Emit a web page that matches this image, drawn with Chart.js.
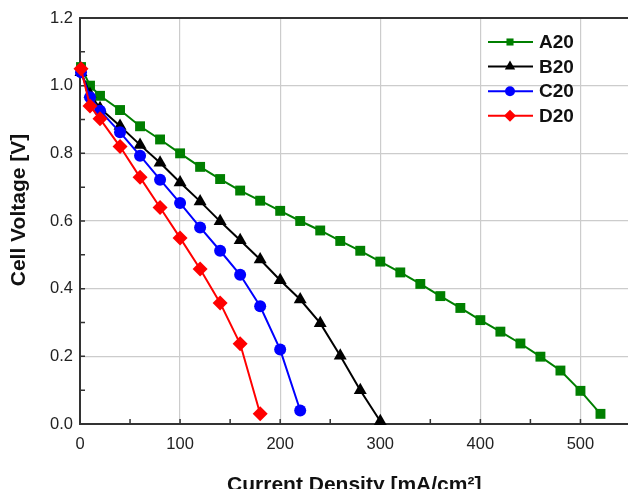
<!DOCTYPE html>
<html><head><meta charset="utf-8">
<script src="https://cdn.jsdelivr.net/npm/chart.js@4.4.1/dist/chart.umd.min.js"></script>
<style>html,body{margin:0;padding:0;overflow:hidden;background:#fff}#wrap{width:636px;height:500px;position:relative}</style>
</head><body><div id="wrap"><canvas id="c"></canvas></div>
<script>
// ---- data ----
const currentDensity = [1,10,20,40,60,80,100,120,140,160,180,200,220,240,260,280,300,320,340,360,380,400,420,440,460,480,500,520];
const seriesNames = ['A20','B20','C20','D20'];
const voltageA20 = [1.055,1.00,0.97,0.928,0.88,0.841,0.80,0.76,0.724,0.69,0.66,0.63,0.60,0.572,0.541,0.512,0.48,0.448,0.414,0.378,0.343,0.307,0.273,0.238,0.199,0.158,0.098,0.03];
const voltageB20 = [1.04,0.975,0.933,0.881,0.825,0.772,0.714,0.658,0.599,0.543,0.486,0.425,0.368,0.298,0.202,0.10,0.008];
const voltageC20 = [1.04,0.966,0.926,0.862,0.793,0.722,0.653,0.581,0.512,0.441,0.348,0.22,0.04];
const voltageD20 = [1.05,0.94,0.902,0.82,0.729,0.64,0.55,0.458,0.358,0.237,0.03];
const xTickValues = [0,100,200,300,400,500];
const yTickValues = [0.0,0.2,0.4,0.6,0.8,1.0,1.2];
const xTitle = 'Current Density [mA/cm²]';
const yTitle = 'Cell Voltage [V]';

const colors = ['#007f00','#000000','#0000ff','#ff0000'];
const shapes = ['rect','triangle','circle','rectRot'];
const radii = [7,7.5,6,7.5];
const allV = [voltageA20,voltageB20,voltageC20,voltageD20];
const FONT = '"Liberation Sans", Arial, sans-serif';

const datasets = allV.map((v,i)=>({
  label: seriesNames[i],
  data: v.map((y,j)=>({x: currentDensity[j], y})),
  borderColor: colors[i], backgroundColor: colors[i],
  borderWidth: 2, pointStyle: shapes[i], pointRadius: radii[i],
  pointBorderWidth: 0, pointHoverRadius: radii[i], tension: 0,
  clip: false, order: 4 - i
}));

function drawMarker(ctx, shape, x, y, r){
  ctx.beginPath();
  if(shape==='rect'){ const s=r*Math.SQRT1_2; ctx.rect(x-s,y-s,2*s,2*s); }
  else if(shape==='triangle'){ ctx.moveTo(x, y-r); ctx.lineTo(x+r*0.866, y+r/2); ctx.lineTo(x-r*0.866, y+r/2); ctx.closePath(); }
  else if(shape==='circle'){ ctx.arc(x,y,r,0,Math.PI*2); }
  else { ctx.moveTo(x,y-r); ctx.lineTo(x+r,y); ctx.lineTo(x,y+r); ctx.lineTo(x-r,y); ctx.closePath(); }
  ctx.fill();
}

const framePlugin = {
  id:'frame',
  beforeDatasetsDraw(chart){
    const {ctx, chartArea:a, scales:{x,y}} = chart;
    ctx.save();
    ctx.strokeStyle='#333'; ctx.lineWidth=2;
    ctx.beginPath(); ctx.moveTo(a.left-1,a.top); ctx.lineTo(a.right,a.top); ctx.stroke();
    ctx.lineWidth=1.5;
    ctx.beginPath();
    for(let v=0; v<=x.max; v+=50){ const px=x.getPixelForValue(v); ctx.moveTo(px,a.bottom); ctx.lineTo(px,a.bottom-5); }
    for(let k=0; k<=12; k++){ const py=y.getPixelForValue(k/10); ctx.moveTo(a.left,py); ctx.lineTo(a.left+5,py); }
    ctx.stroke();
    // y axis title
    ctx.save();
    ctx.translate(19, (a.top+a.bottom)/2 - 11);
    ctx.rotate(-Math.PI/2);
    ctx.font = 'bold 21px ' + FONT;
    ctx.fillStyle='#111'; ctx.textAlign='center'; ctx.textBaseline='middle';
    ctx.fillText(yTitle, 0, 0);
    ctx.restore();
    ctx.restore();
  }
};

const legendPlugin = {
  id:'customLegend',
  afterDatasetsDraw(chart){
    const {ctx, chartArea:a} = chart;
    const x0 = a.left + 408, x1 = a.left + 453, xm = a.left + 430, xt = a.left + 459;
    const y0 = a.top + 24, dy = 24.6;
    ctx.save();
    ctx.font = 'bold 19px ' + FONT;
    ctx.textBaseline='middle'; ctx.textAlign='left';
    seriesNames.forEach((n,i)=>{
      const yy = y0 + i*dy;
      ctx.strokeStyle=colors[i]; ctx.fillStyle=colors[i]; ctx.lineWidth=2;
      ctx.beginPath(); ctx.moveTo(x0,yy); ctx.lineTo(x1,yy); ctx.stroke();
      drawMarker(ctx, shapes[i], xm, yy, [5,6,5,6][i]);
      ctx.fillStyle='#111'; ctx.fillText(n, xt, yy+1);
    });
    ctx.restore();
  }
};

new Chart(document.getElementById('c'), {
  type:'line',
  data:{datasets},
  options:{
    responsive:true, maintainAspectRatio:false, animation:false,
    layout:{padding:{top:18,right:0,left:0,bottom:0}},
    plugins:{legend:{display:false}, tooltip:{enabled:false}},
    scales:{
      x:{type:'linear', min:0, max:548,
        afterFit(s){ s.height = 76; s.paddingRight = 0; s.paddingLeft = 0; },
        afterBuildTicks(s){ s.ticks = xTickValues.map(v=>({value:v})); },
        grid:{color:'#cccccc', lineWidth:1.2, drawTicks:false},
        border:{color:'#333', width:2},
        ticks:{padding:11, color:'#222', font:{family:FONT, size:16.5}, callback:v=>String(v)},
        title:{display:true, text:xTitle, color:'#111', padding:{top:0,bottom:2}, font:{family:FONT, size:21, weight:'bold'}}
      },
      y:{type:'linear', min:0, max:1.2,
        afterFit(s){ s.width = 80; },
        afterBuildTicks(s){ s.ticks = yTickValues.map(v=>({value:v})); },
        grid:{color:'#cccccc', lineWidth:1.2, drawTicks:false},
        border:{color:'#333', width:2},
        ticks:{padding:7, color:'#222', font:{family:FONT, size:16.5}, callback:v=>Number(v).toFixed(1)},
        title:{display:false}
      }
    }
  },
  plugins:[framePlugin, legendPlugin]
});
</script></body></html>
